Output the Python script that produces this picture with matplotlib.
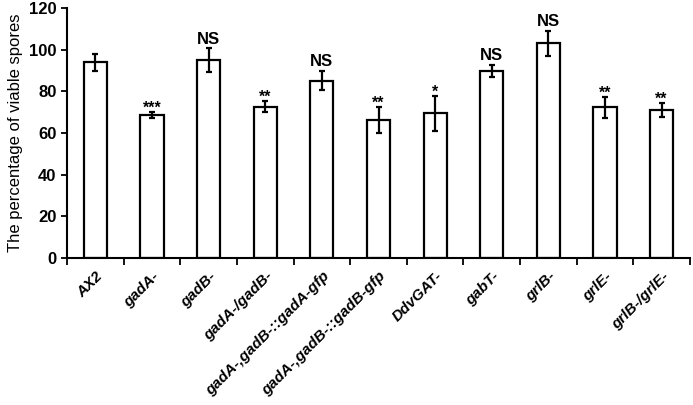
import matplotlib
matplotlib.use("Agg")
import matplotlib.pyplot as plt
import numpy as np

categories = ["AX2", "gadA-", "gadB-", "gadA-/gadB-", "gadA-,gadB-::gadA-gfp",
              "gadA-,gadB-::gadB-gfp", "DdvGAT-", "gabT-", "grlB-", "grlE-", "grlB-/grlE-"]
values = [94, 68.6, 95, 72.6, 85.1, 66.2, 69.5, 89.9, 103, 72.3, 71.2]
errors = [4, 1.5, 5.6, 2.6, 4.6, 6.2, 8.4, 2.8, 6.0, 5.2, 3.4]
marks = ["", "***", "NS", "**", "NS", "**", "*", "NS", "NS", "**", "**"]

plt.rcParams['font.family'] = ['Liberation Sans', 'DejaVu Sans']

fig = plt.figure(figsize=(6.93, 4.05), dpi=100)
ax = fig.add_axes([67/693, (405-258)/405, (690-67)/693, 250/405])

x = np.arange(len(categories))
ax.bar(x, values, width=0.41, color='white', edgecolor='black', linewidth=1.6, zorder=2)
ax.errorbar(x, values, yerr=errors, fmt='none', ecolor='black', elinewidth=1.6,
            capsize=2.5, capthick=1.6, zorder=3)

for xi, v, e, m in zip(x, values, errors, marks):
    if not m:
        continue
    if m == "NS":
        ax.text(xi, v + e + 0.8, m, ha='center', va='bottom', fontsize=12, fontweight='bold')
    else:
        ax.text(xi, v + e - 1.8, m, ha='center', va='bottom', fontsize=11.5, fontweight='bold')

ax.set_xlim(-0.5, 10.5)
ax.set_ylim(0, 120)
ax.set_yticks(np.arange(0, 121, 20))
ax.tick_params(axis='y', labelsize=12, direction='out', length=4, width=1.3)
for lab in ax.get_yticklabels():
    lab.set_fontweight('bold')
ax.set_ylabel("The percentage of viable spores", fontsize=12, labelpad=4)

ax.set_xticks(x)
ax.set_xticklabels(categories, rotation=45, ha='right', rotation_mode='anchor',
                   fontsize=11, fontweight='bold', fontstyle='italic')
ax.tick_params(axis='x', which='major', length=0, pad=8)
ax.set_xticks(np.arange(-0.5, 10.6, 1), minor=True)
ax.tick_params(axis='x', which='minor', direction='out', length=5, width=1.3)

for s in ['top', 'right']:
    ax.spines[s].set_visible(False)
for s in ['left', 'bottom']:
    ax.spines[s].set_linewidth(1.5)

fig.savefig("out.png", dpi=100)
